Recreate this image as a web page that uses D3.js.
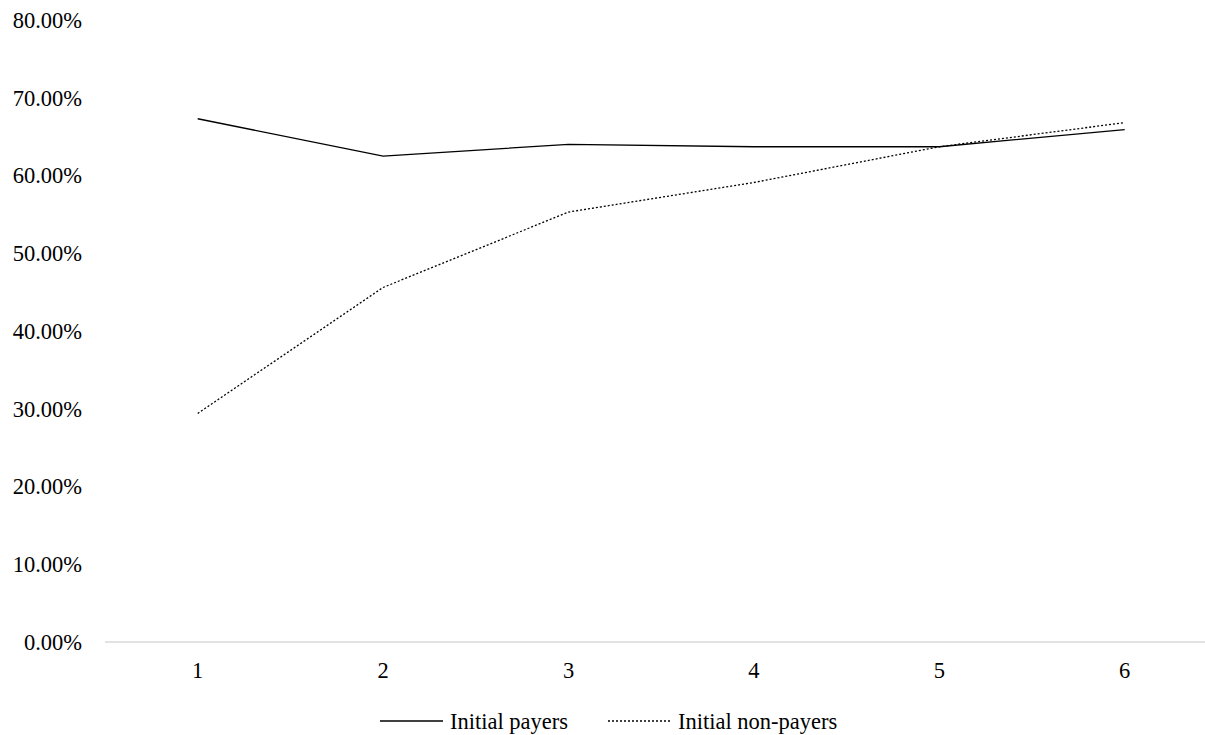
<!DOCTYPE html>
<html>
<head>
<meta charset="utf-8">
<script src="https://cdn.jsdelivr.net/npm/d3@7"></script>
<style>
  body { margin: 0; background: #fff; overflow: hidden; }
  text { font-family: "Liberation Serif", "Times New Roman", serif; fill: #000; }
</style>
</head>
<body>
<div id="chart"></div>
<script>
// chart values
var periods = ["1", "2", "3", "4", "5", "6"];
var payers = [0.673, 0.625, 0.640, 0.637, 0.637, 0.659];
var nonPayers = [0.294, 0.456, 0.553, 0.591, 0.637, 0.668];
var yTicks = [0, 0.1, 0.2, 0.3, 0.4, 0.5, 0.6, 0.7, 0.8];
var seriesNames = ["Initial payers", "Initial non-payers"];

var width = 1205, height = 735;
var left = 105, step = 185.4;

var svg = d3.select("#chart").append("svg")
    .attr("width", width)
    .attr("height", height);

var x = d3.scaleBand()
    .domain(periods)
    .range([left, left + step * periods.length])
    .padding(0);

var y = d3.scaleLinear()
    .domain([0, 0.8])
    .range([642, 20]);

// y labels (no axis line)
svg.selectAll(".ylab")
    .data(yTicks)
    .enter().append("text")
    .attr("class", "ylab")
    .attr("x", 82)
    .attr("y", function(d) { return y(d); })
    .attr("dy", ".35em")
    .attr("text-anchor", "end")
    .style("font-size", "22.5px")
    .text(function(d) { return d3.format(".2%")(d); });

// x axis line
svg.append("line")
    .attr("x1", x.range()[0])
    .attr("x2", x.range()[1])
    .attr("y1", y(0))
    .attr("y2", y(0))
    .attr("stroke", "#d9d9d9")
    .attr("stroke-width", 1.5);

svg.selectAll(".xlab")
    .data(periods)
    .enter().append("text")
    .attr("class", "xlab")
    .attr("x", function(d) { return x(d) + x.bandwidth() / 2; })
    .attr("y", 670)
    .attr("dy", ".35em")
    .attr("text-anchor", "middle")
    .style("font-size", "22.5px")
    .text(function(d) { return d; });

var line = d3.line()
    .x(function(d, i) { return x(periods[i]) + x.bandwidth() / 2; })
    .y(function(d) { return y(d); });

svg.append("path")
    .datum(payers)
    .attr("d", line)
    .attr("fill", "none")
    .attr("stroke", "#000")
    .attr("stroke-width", 1.3);

svg.append("path")
    .datum(nonPayers)
    .attr("d", line)
    .attr("fill", "none")
    .attr("stroke", "#000")
    .attr("stroke-width", 1.3)
    .attr("stroke-dasharray", "2,2");

// legend
var legend = [
  {name: seriesNames[0], x: 380, dash: null},
  {name: seriesNames[1], x: 608, dash: "2,2"}
];
var lg = svg.selectAll(".legend")
    .data(legend)
    .enter().append("g")
    .attr("class", "legend")
    .attr("transform", function(d) { return "translate(" + d.x + ",721)"; });

lg.append("line")
    .attr("x1", 0)
    .attr("x2", 63)
    .attr("stroke", "#000")
    .attr("stroke-width", 1.3)
    .attr("stroke-dasharray", function(d) { return d.dash; });

lg.append("text")
    .attr("x", 70)
    .attr("dy", ".35em")
    .style("font-size", "22.5px")
    .text(function(d) { return d.name; });
</script>
</body>
</html>
